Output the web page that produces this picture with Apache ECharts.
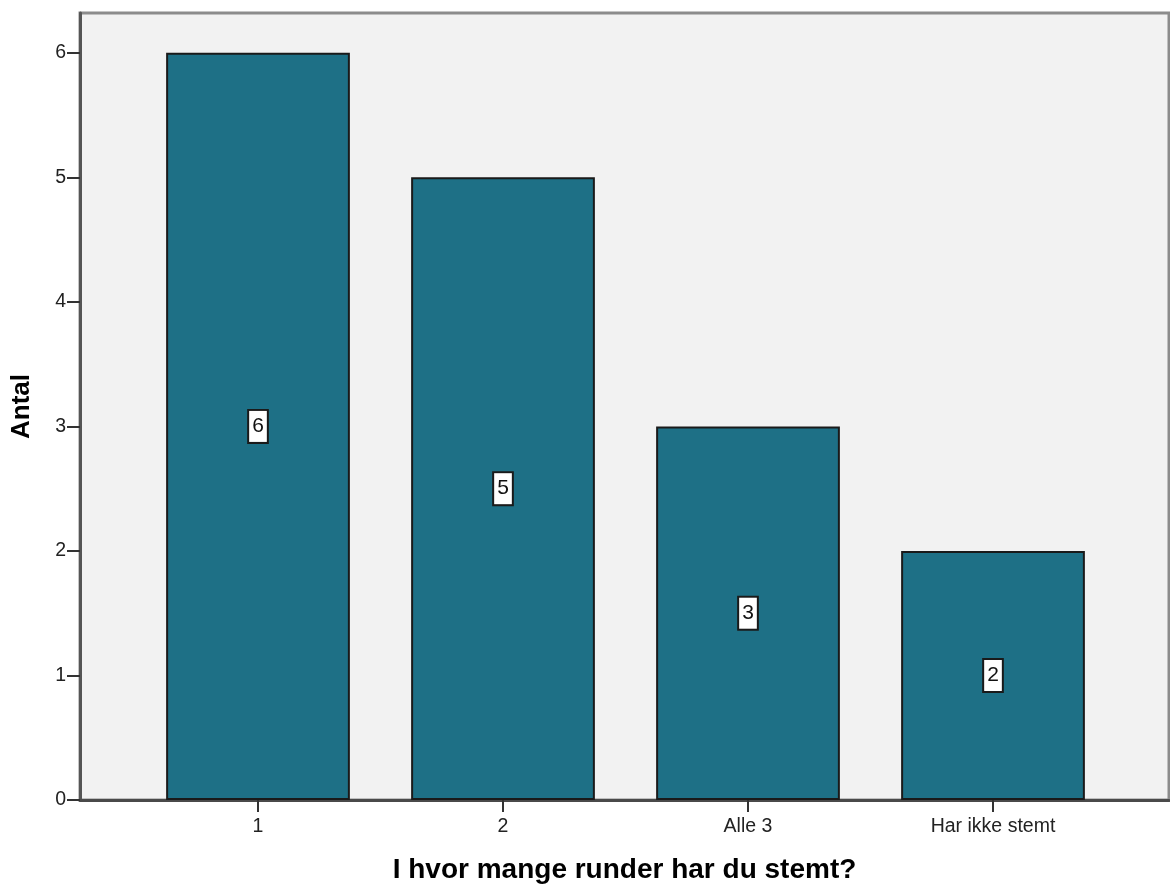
<!DOCTYPE html>
<html><head><meta charset="utf-8">
<script src="https://cdn.jsdelivr.net/npm/echarts@6/dist/echarts.min.js"></script>
<style>html,body{margin:0;padding:0;background:#fff}#c{width:1170px;height:891px}</style>
</head><body><div id="c"></div>
<script>
const categories = ['1', '2', 'Alle 3', 'Har ikke stemt'];
const counts = [6, 5, 3, 2];
const yTicks = [0, 1, 2, 3, 4, 5, 6];
const xTitle = 'I hvor mange runder har du stemt?';
const yTitle = 'Antal';

const chart = echarts.init(document.getElementById('c'), null, {renderer: 'canvas'});
const font = 'Liberation Sans, Arial, sans-serif';
const yMax = 6.32;
chart.setOption({
  animation: false,
  grid: [
    {left: 80, right: 1, top: 13, bottom: 91, show: true, backgroundColor: '#f2f2f2', borderColor: '#8c8c8c', borderWidth: 3, z: 0},
    {left: 135.5, right: 54.5, top: 13, bottom: 91}
  ],
  xAxis: [
    {gridIndex: 0, type: 'value', min: 0, max: 1, axisLine: {show: true, onZero: false, lineStyle: {color: '#4a4a4a', width: 3}},
     axisTick: {show: false}, axisLabel: {show: false}, splitLine: {show: false},
     name: xTitle, nameLocation: 'middle', nameGap: 56,
     nameTextStyle: {fontFamily: font, fontSize: 28, fontWeight: 'bold', color: '#000'}},
    {gridIndex: 1, type: 'category', data: categories, boundaryGap: true,
     axisLine: {show: false}, axisTick: {show: true, alignWithLabel: true, length: 12, lineStyle: {color: '#333', width: 2}},
     axisLabel: {fontFamily: font, fontSize: 19.5, color: '#222', margin: 17}}
  ],
  yAxis: [
    {gridIndex: 0, type: 'value', min: 0, max: yMax, interval: 1,
     axisLine: {show: true, lineStyle: {color: '#555', width: 3}},
     axisTick: {show: true, length: 13, customValues: yTicks, lineStyle: {color: '#333', width: 2}},
     axisLabel: {fontFamily: font, fontSize: 19.5, color: '#222', margin: 14, customValues: yTicks},
     splitLine: {show: false},
     name: yTitle, nameLocation: 'middle', nameGap: 45, nameRotate: 90,
     nameTextStyle: {fontFamily: font, fontSize: 26, fontWeight: 'bold', color: '#000'}},
    {gridIndex: 1, type: 'value', min: 0, max: yMax, interval: 1, show: false}
  ],
  series: [{
    type: 'bar', xAxisIndex: 1, yAxisIndex: 1, data: counts, barWidth: '75%',
    itemStyle: {color: '#1e7086', borderColor: '#1a1a1a', borderWidth: 2},
    label: {show: true, position: 'inside', fontFamily: font, fontSize: 21, color: '#111',
      backgroundColor: '#ffffff', borderColor: '#1a1a1a', borderWidth: 2, padding: [6, 3, 4, 3]}
  }]
});
</script></body></html>
